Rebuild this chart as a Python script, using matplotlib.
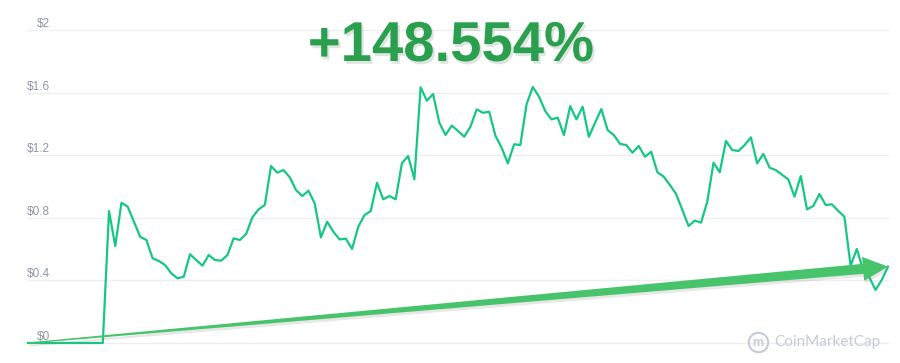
import numpy as np
import matplotlib
matplotlib.use("Agg")
import matplotlib.pyplot as plt
from matplotlib import patheffects as pe
from matplotlib.lines import Line2D
from matplotlib.patches import Polygon
from matplotlib.transforms import IdentityTransform, blended_transform_factory

# price history (USD), one value per step; zeros before the coin was listed
price = [0.0, 0.0, 0.0, 0.0, 0.0, 0.0, 0.0, 0.0, 0.0, 0.0, 0.0, 0.0, 0.0,
         0.843, 0.62, 0.896, 0.871, 0.775, 0.679, 0.658, 0.541, 0.524, 0.498,
         0.445, 0.413, 0.424, 0.567, 0.53, 0.494, 0.562, 0.53, 0.526, 0.562,
         0.669, 0.658, 0.696, 0.803, 0.854, 0.882, 1.131, 1.088, 1.105, 1.059,
         0.978, 0.939, 0.973, 0.893, 0.675, 0.775, 0.711, 0.662, 0.667, 0.601,
         0.743, 0.818, 0.843, 1.024, 0.918, 0.939, 0.918, 1.148, 1.195, 1.046,
         1.634, 1.548, 1.591, 1.408, 1.329, 1.389, 1.355, 1.318, 1.382, 1.493,
         1.471, 1.478, 1.325, 1.248, 1.148, 1.27, 1.265, 1.525, 1.636, 1.574,
         1.482, 1.429, 1.44, 1.329, 1.514, 1.429, 1.51, 1.318, 1.408, 1.495,
         1.361, 1.329, 1.272, 1.265, 1.216, 1.259, 1.19, 1.222, 1.091, 1.063,
         1.01, 0.952, 0.85, 0.748, 0.782, 0.769, 0.903, 1.152, 1.091, 1.291,
         1.233, 1.227, 1.265, 1.314, 1.148, 1.208, 1.12, 1.105, 1.075, 1.045,
         0.935, 1.067, 0.854, 0.875, 0.952, 0.882, 0.886, 0.845, 0.807, 0.494,
         0.601, 0.466, 0.42, 0.339, 0.403, 0.488]
yticks = [0, 0.4, 0.8, 1.2, 1.6, 2.0]
ytick_labels = ["$0", "$0.4", "$0.8", "$1.2", "$1.6", "$2"]
change_label = "+148.554%"
watermark = "CoinMarketCap"

LINE_GREEN = "#16c784"
ARROW_GREEN = "#47c46b"
TITLE_GREEN = "#2a9f4d"
GRID = "#eceef3"
LABEL = "#8e96a8"

fig = plt.figure(figsize=(9, 3.63), dpi=100)
fig.patch.set_facecolor("white")
ax = fig.add_axes([28 / 900, 20 / 363, 860 / 900, 313 / 363])
ax.set_xlim(0, len(price) - 1)
ax.set_ylim(0, 2)
ax.axis("off")

# grid + $ labels sitting on top of each line
lab_tr = blended_transform_factory(ax.transAxes, ax.transData)
for v, lab in zip(yticks, ytick_labels):
    ax.axhline(v, color=GRID, lw=0.9, zorder=0, clip_on=False)
    ax.text(0.0256, v, lab, transform=lab_tr, ha="right", va="bottom",
            fontsize=8.5, color=LABEL, family="Liberation Sans", zorder=1)

x = np.arange(len(price))
ax.plot(x, price, color=LINE_GREEN, lw=1.6, zorder=4, clip_on=False)

# big trend arrow from first to last point, built in pixel space
p0 = ax.transData.transform((0, 0))
p1 = ax.transData.transform((len(price) - 1, price[-1]))
d = p1 - p0
u = d / np.hypot(*d)
nv = np.array([-u[1], u[0]])
head_len, head_hw, tail_hw, body_hw = 25, 12, 0.6, 5
base = p1 - u * head_len
pts = [p0 + nv * tail_hw, base + nv * body_hw, base + nv * head_hw, p1,
       base - nv * head_hw, base - nv * body_hw, p0 - nv * tail_hw]
arrow = Polygon(pts, closed=True, transform=IdentityTransform(),
                facecolor=ARROW_GREEN, edgecolor="none", zorder=3)
arrow.set_path_effects([pe.SimplePatchShadow(offset=(1, -2), shadow_rgbFace="#888888",
                                             alpha=0.2), pe.Normal()])
fig.add_artist(arrow)

fig.text(451 / 900, 1 - 47 / 363, change_label, ha="center", va="center",
         fontsize=40.5, fontweight="bold", family="Liberation Sans", color=TITLE_GREEN,
         path_effects=[pe.SimplePatchShadow(offset=(1.5, -2), alpha=0.13), pe.Normal()])

# watermark
wm_col = "#c5cbd9"
fig.add_artist(Line2D([758 / 900], [1 - 342 / 363], marker="o", markersize=14,
                      mfc="none", mec=wm_col, mew=1.5, transform=fig.transFigure))
fig.text(758 / 900, 1 - 342 / 363, "m", ha="center", va="center", fontsize=9.5,
         fontweight="bold", color=wm_col, family="Lato")
fig.text(827 / 900, 1 - 342 / 363, watermark, ha="center", va="center",
         fontsize=11, color=wm_col, family="Lato")

fig.savefig("out.png", dpi=100, facecolor="white")
